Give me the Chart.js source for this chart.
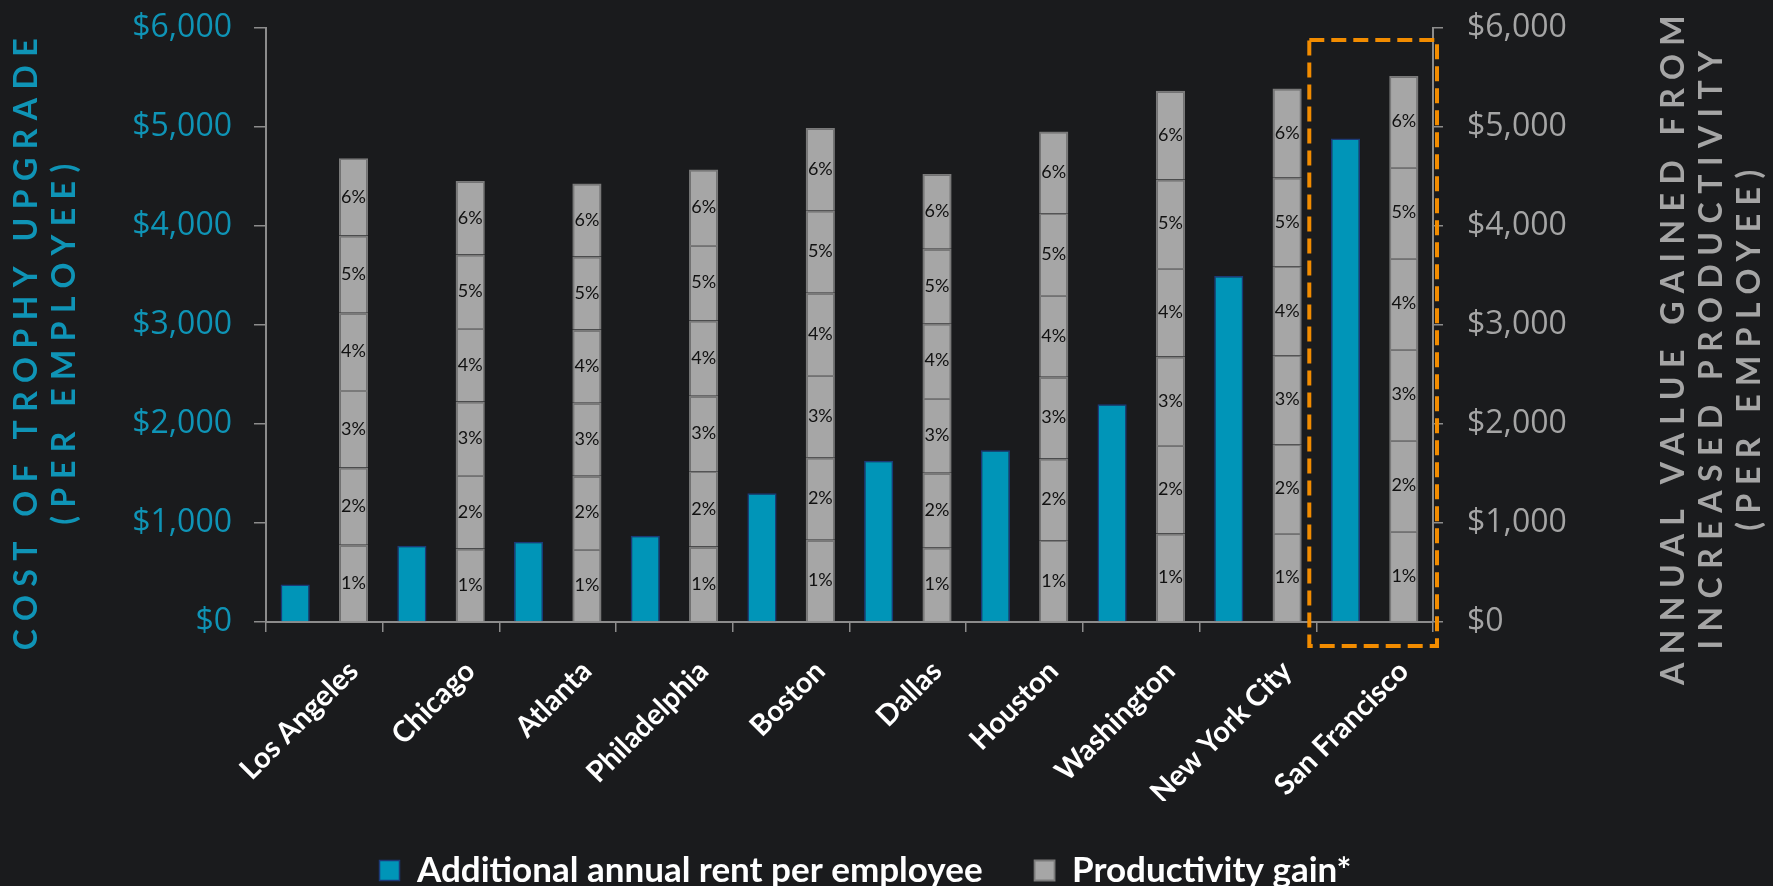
<!DOCTYPE html>
<html>
<head>
<meta charset="utf-8">
<script src="https://cdn.jsdelivr.net/npm/chart.js@4.4.1/dist/chart.umd.min.js"></script>
<style>
  html, body { margin: 0; padding: 0; background: #1a1b1d; }
  #wrap { width: 1773px; height: 886px; }
</style>
</head>
<body>
<div id="wrap"><canvas id="chart" width="1773" height="886"></canvas></div>
<script>
const cities = ['Los Angeles', 'Chicago', 'Atlanta', 'Philadelphia', 'Boston', 'Dallas', 'Houston', 'Washington', 'New York City', 'San Francisco'];
const rentPerEmployee = [380, 770, 810, 870, 1300, 1630, 1735, 2200, 3495, 4885];
const gainAt6Pct = [4685, 4455, 4430, 4570, 4990, 4525, 4955, 5365, 5390, 5515];
const gainSteps = ['1%', '2%', '3%', '4%', '5%', '6%'];
const dollarTicks = [0, 1000, 2000, 3000, 4000, 5000, 6000];
const highlightCity = 'San Francisco';
const leftTitle = ['COST OF TROPHY UPGRADE', '(PER EMPLOYEE)'];
const rightTitle = ['ANNUAL VALUE GAINED FROM', 'INCREASED PRODUCTIVITY', '(PER EMPLOYEE)'];

const teal = '#0f94b6',
  blueBar = '#0095b8',
  grayBar = '#a6a6a6',
  axisGray = '#8c8c8c',
  rightGray = '#a5a5a5',
  orange = '#f28c00';

Chart.defaults.font.family = 'Lato';

// each 1% step of productivity is one equal slice of the 6% bar
const gainDatasets = gainSteps.map((step, k) => ({
  label: k === 0 ? 'Productivity gain*' : step,
  step,
  data: gainAt6Pct.map((v) => v / gainSteps.length),
  stack: 'gain',
  yAxisID: 'y2',
  backgroundColor: grayBar,
  borderColor: '#7a7a7a',
  borderWidth: 1.8,
}));

const stepLabels = {
  id: 'stepLabels',
  afterDatasetsDraw(chart) {
    const ctx = chart.ctx;
    ctx.save();
    ctx.font = '18px Lato';
    ctx.fillStyle = '#111';
    ctx.textAlign = 'center';
    ctx.textBaseline = 'middle';
    chart.data.datasets.forEach((ds, i) => {
      if (!ds.step) return;
      chart.getDatasetMeta(i).data.forEach((bar) => {
        ctx.fillText(ds.step, bar.x, (bar.y + bar.base) / 2);
      });
    });
    ctx.restore();
  }
};

// dashed box around the highlighted city
const highlight = {
  id: 'highlight',
  afterDraw(chart) {
    const { ctx, chartArea } = chart;
    const x = chart.scales.x;
    const i = cities.indexOf(highlightCity);
    const half = (x.getPixelForValue(1) - x.getPixelForValue(0)) / 2;
    const cx = x.getPixelForValue(i);
    const left = cx - half - 7, right = cx + half + 4;
    const top = chartArea.top + 12, bottom = chartArea.bottom + 24;
    ctx.save();
    ctx.strokeStyle = orange;
    ctx.lineWidth = 4;
    ctx.setLineDash([15, 7]);
    ctx.strokeRect(left, top, right - left, bottom - top);
    ctx.restore();
  }
};

function drawSpacedTitle(ctx, lines, xs, cy, color) {
  ctx.save();
  ctx.fillStyle = color;
  ctx.font = 'bold 32px Lato';
  ctx.letterSpacing = '8.5px';
  ctx.textAlign = 'center';
  ctx.textBaseline = 'middle';
  lines.forEach((t, k) => {
    ctx.save();
    ctx.translate(xs[k], cy);
    ctx.rotate(-Math.PI / 2);
    ctx.fillText(t, 0, 0);
    ctx.restore();
  });
  ctx.restore();
}

const axisTitles = {
  id: 'axisTitles',
  beforeDraw(chart) {
    const { ctx, width, height } = chart;
    ctx.save();
    ctx.fillStyle = '#1a1b1d';
    ctx.fillRect(0, 0, width, height);
    ctx.restore();
  },
  afterDraw(chart) {
    drawSpacedTitle(chart.ctx, leftTitle, [27, 65], 340, teal);
    drawSpacedTitle(chart.ctx, rightTitle, [1674, 1712, 1750], 346, rightGray);
  }
};

const fixedTicks = (scale) => {
  scale.ticks = dollarTicks.map((v) => ({ value: v }));
};
const money = (v) => '$' + v.toLocaleString('en-US');
// tick padding should not push the plot area down
const fitWidth = (w) => (s) => {
  s.width = w;
  s.paddingTop = 10;
  s.paddingBottom = 10;
};

new Chart(document.getElementById('chart'), {
  type: 'bar',
  data: {
    labels: cities,
    datasets: [{
      label: 'Additional annual rent per employee',
      data: rentPerEmployee,
      stack: 'rent',
      yAxisID: 'y',
      backgroundColor: blueBar,
      borderColor: '#1c3a78',
      borderWidth: 1.5,
    }, ...gainDatasets],
  },
  options: {
    responsive: false,
    animation: false,
    devicePixelRatio: 1,
    layout: { padding: { left: 126, right: 168, top: 28, bottom: 0 } },
    datasets: { bar: { categoryPercentage: 1, barPercentage: 0.5 } },
    plugins: {
      tooltip: { enabled: false },
      legend: {
        position: 'bottom',
        maxHeight: 85,
        labels: {
          color: '#fff',
          font: { size: 35, weight: 'bold' },
          boxWidth: 20,
          boxHeight: 20,
          padding: 52,
          filter: (item) => item.datasetIndex < 2,
        }
      }
    },
    scales: {
      x: {
        grid: { drawOnChartArea: false, color: axisGray, tickLength: 10, lineWidth: 1.5 },
        border: { color: axisGray, width: 2 },
        ticks: {
          color: '#fff',
          font: { size: 29, weight: 'bold' },
          minRotation: 45,
          maxRotation: 45,
          autoSkip: false,
          padding: 22,
          labelOffset: 29,
        },
        afterFit: (s) => { s.height = 179; }
      },
      y: {
        position: 'left',
        min: 0,
        max: 6000,
        afterBuildTicks: fixedTicks,
        grid: { drawOnChartArea: false, color: axisGray, tickLength: 12, lineWidth: 1.5 },
        border: { color: axisGray, width: 2 },
        ticks: { color: teal, font: { family: 'Open Sans', size: 32 }, padding: 22, callback: money },
        afterFit: fitWidth(140)
      },
      y2: {
        position: 'right',
        min: 0,
        max: 6000,
        stacked: true,
        afterBuildTicks: fixedTicks,
        grid: { drawOnChartArea: false, color: axisGray, tickLength: 10, lineWidth: 1.5 },
        border: { color: axisGray, width: 2 },
        ticks: { color: rightGray, font: { family: 'Open Sans', size: 32 }, padding: 24, callback: money },
        afterFit: fitWidth(172)
      }
    }
  },
  plugins: [axisTitles, stepLabels, highlight]
});
</script>
</body>
</html>
